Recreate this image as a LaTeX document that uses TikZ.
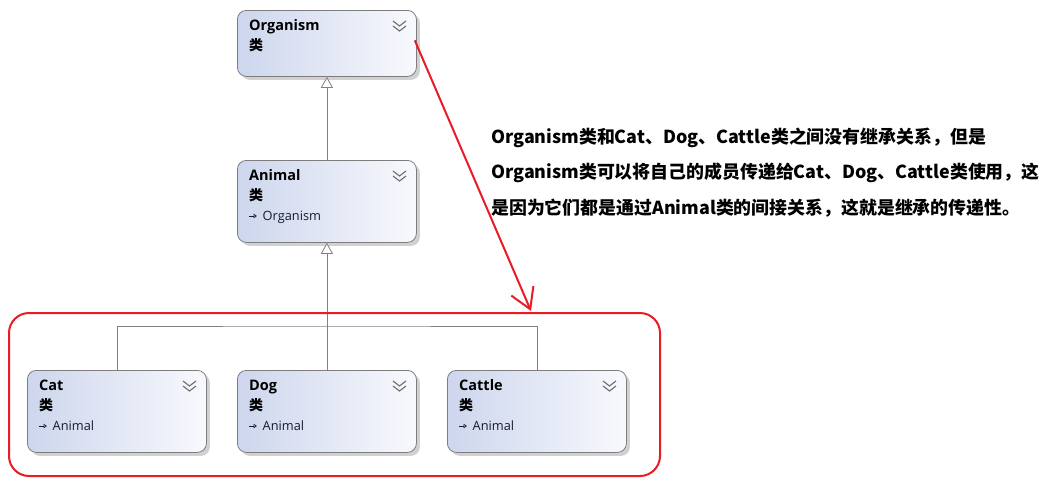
\documentclass[tikz,border=0pt]{standalone}
\usepackage{fontspec}
\setmainfont{Open Sans}
\newfontfamily\cjk{Noto Sans CJK SC}
\usetikzlibrary{arrows.meta,shadows,calc}
\definecolor{boxL}{RGB}{205,214,237}
\definecolor{boxR}{RGB}{248,249,253}
\definecolor{boxB}{RGB}{125,125,125}
\definecolor{conn}{RGB}{128,128,128}
\definecolor{mark}{RGB}{232,28,36}
\definecolor{chev}{RGB}{110,110,110}
\definecolor{ink}{RGB}{25,25,50}
\newcommand\classbox[6]{%
  \node[classbox, minimum height=#4] (#1) at (#2,#3) {};
  \node[ctitle] (#1-t) at ($(#1.north west)+(12,20.5)$) {#5};
  \node[ctype] (#1-k) at ($(#1.north west)+(12,40)$) {类};
  \draw[chevst] ($(#1.north west)+(156,11)$) -- ++(6.5,5) -- ++(6.5,-5);
  \draw[chevst] ($(#1.north west)+(156,16)$) -- ++(6.5,5) -- ++(6.5,-5);
  \ifx&#6&\else
    \coordinate (#1-a) at ($(#1.north west)+(12,56)$);
    \draw[iconst] (#1-a) -- ++(8,0);
    \node[cinh] (#1-i) at ($(#1.north west)+(25.5,60.5)$) {#6};
  \fi
}
\begin{document}
\begin{tikzpicture}[x=1pt,y=-1pt,
  classbox/.style={draw=boxB, line width=0.8pt, rounded corners=9pt,
    left color=boxL, right color=boxR, minimum width=179pt, anchor=north west,
    inner sep=0pt,
    drop shadow={shadow xshift=3.5pt,shadow yshift=-3.5pt,fill=black,opacity=0.18}},
  ctitle/.style={anchor=base west, inner sep=0pt, font=\bfseries\fontsize{14.5}{16}\selectfont, text=black},
  ctype/.style={anchor=base west, inner sep=0pt, font=\cjk\bfseries\fontsize{14}{15}\selectfont, text=black},
  cinh/.style={anchor=base west, inner sep=0pt, font=\fontsize{12.8}{14}\selectfont, text=ink},
  chevst/.style={draw=chev, line width=1.1pt},
  iconst/.style={draw=ink, line width=0.7pt, -{Triangle[open,length=3.5pt,width=4.5pt]}},
  inh/.style={draw=conn, line width=0.8pt, -{Triangle[open,length=11pt,width=12pt,fill=white]}},
  plain/.style={draw=conn, line width=0.8pt},
  redbox/.style={draw=mark, line width=2pt, rounded corners=20pt},
  redarrow/.style={draw=mark, line width=2pt, -{Straight Barb[length=20pt,width=24pt,line width=2pt]}},
  note/.style={anchor=west, inner sep=0pt, font=\cjk\bfseries\fontsize{17.9}{20}\selectfont, text=black}
]
\useasboundingbox (0,0) rectangle (1050,485);
\fill[white] (0,0) rectangle (1050,485);

\classbox{org}{237}{10}{66pt}{Organism}{}
\classbox{ani}{237}{160}{82pt}{Animal}{Organism}
\classbox{cat}{27}{370}{82pt}{Cat}{Animal}
\classbox{dog}{237}{370}{82pt}{Dog}{Animal}
\classbox{cattle}{447}{370}{82pt}{Cattle}{Animal}

\draw[inh] (ani.north) -- (org.south);
\coordinate (jn) at (326,326);
\draw[inh] (dog.north) -- (ani.south);
\draw[plain] (cat.north) |- (jn) -| (cattle.north);

\node[redbox, minimum width=651pt, minimum height=163pt, anchor=north west] (grp) at (8,312) {};
\coordinate (tip) at (531,311);
\draw[redarrow] ($(org.east)+(-2,-3)$) -- (tip);

\node[note] (t1) at (491,138) {Organism类和Cat、Dog、Cattle类之间没有继承关系，但是};
\node[note] (t2) at (491,173) {Organism类可以将自己的成员传递给Cat、Dog、Cattle类使用，这};
\node[note] (t3) at (491,208) {是因为它们都是通过Animal类的间接关系，这就是继承的传递性。};
\end{tikzpicture}
\end{document}
